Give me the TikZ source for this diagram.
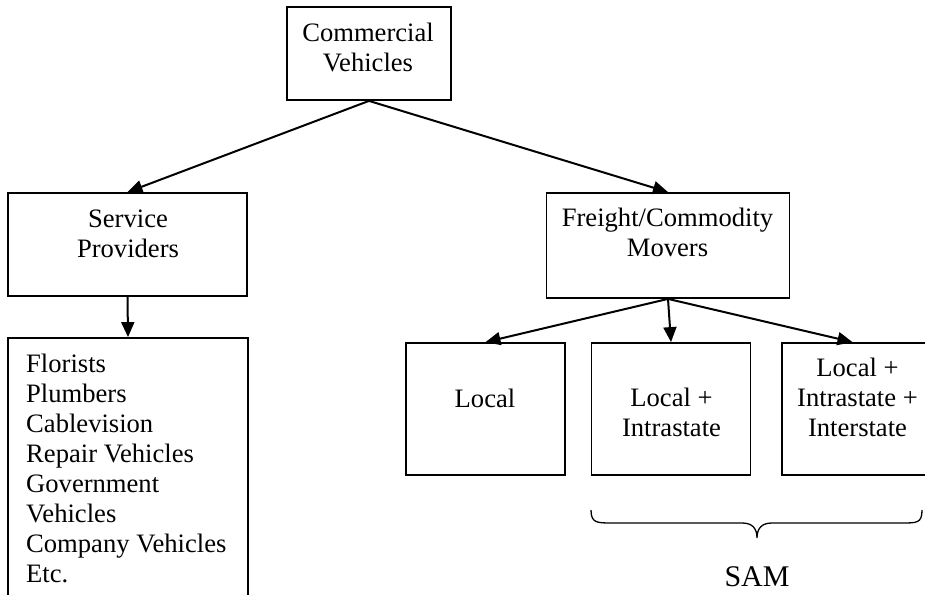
\documentclass[tikz,border=0pt]{standalone}
\usepackage{fontspec}
\setmainfont{Liberation Serif}
\usetikzlibrary{arrows.meta}
\begin{document}
\begin{tikzpicture}[x=1pt,y=-1pt,
  box/.style={draw, line width=1.8pt, rectangle, inner sep=0pt},
  lbl/.style={inner sep=0pt, align=center, font=\fontsize{26.6}{30}\selectfont},
  arr/.style={line width=2pt, -{Triangle[length=15pt,width=13pt]}}]
\useasboundingbox (0,0) rectangle (925,594);
\clip (0,0) rectangle (925,594);
\fill[white] (0,0) rectangle (925,594);
% boxes
\node[box, minimum width=164, minimum height=93] (cv) at (369,53.5) {};
\node[box, minimum width=239, minimum height=103] (sp) at (127.5,244.5) {};
\node[box, minimum width=243, minimum height=105] (fm) at (668,245.5) {};
\node[box, minimum width=240, minimum height=270] (ls) at (128,473) {};
\node[box, minimum width=159, minimum height=132] (lo) at (485.5,409) {};
\node[box, minimum width=159, minimum height=132] (li) at (671,409) {};
\node[box, minimum width=151, minimum height=132] (lt) at (857.5,409) {};
% texts (base anchor = baseline of the last line)
\node[lbl, anchor=base] (cvt) at (368,71) {Commercial\\Vehicles};
\node[lbl, anchor=base] (spt) at (128,257) {Service\\Providers};
\node[lbl, anchor=base] (fmt) at (667.5,256) {Freight/Commodity\\Movers};
\node[lbl, anchor=base] (lot) at (485,407) {Local};
\node[lbl, anchor=base] (lit) at (671.5,436) {Local +\\Intrastate};
\node[lbl, anchor=base] (ltt) at (857.5,436) {Local +\\Intrastate +\\Interstate};
\node[lbl, anchor=base west, align=left] (lst) at (26,582) {Florists\\Plumbers\\Cablevision\\Repair Vehicles\\Government\\Vehicles\\Company Vehicles\\Etc.};
\node[lbl, anchor=base, font=\fontsize{30}{34}\selectfont] (sam) at (757,586) {SAM};
% connectors
\draw[arr] (cv.south) -- (sp.north);
\draw[arr] (cv.south) -- (fm.north);
\draw[arr] (sp.south) -- (ls.north);
\draw[arr] (fm.south) -- (lo.north);
\draw[arr] (fm.south) -- (li.north);
\draw[arr] (fm.south) -- ([xshift=-5pt]lt.north);
% brace
\draw[line width=1.3pt] (591,510) .. controls (591,523) and (597,523) .. (612,523) -- (742,523)
  .. controls (752,523) and (757,528) .. (757,538)
  .. controls (757,528) and (762,523) .. (772,523) -- (902,523)
  .. controls (917,523) and (922,523) .. (922,510);
\end{tikzpicture}
\end{document}
